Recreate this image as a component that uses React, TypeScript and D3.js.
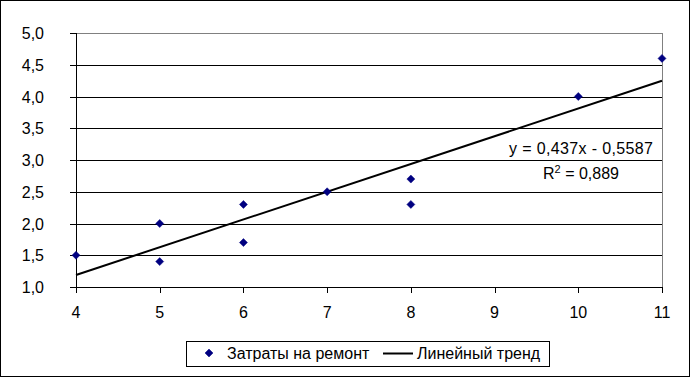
import React from "react";
import * as d3 from "d3";

const xValues = [4, 5, 5, 6, 6, 7, 8, 8, 10, 11];
const yValues = [1.5, 2.0, 1.4, 2.3, 1.7, 2.5, 2.7, 2.3, 4.0, 4.6];
const xTicks = [4, 5, 6, 7, 8, 9, 10, 11];
const yTicks = [1.0, 1.5, 2.0, 2.5, 3.0, 3.5, 4.0, 4.5, 5.0];
const trendSlope = 0.437;
const trendIntercept = -0.5587;
const seriesName = "Затраты на ремонт";
const trendName = "Линейный тренд";
const eqText = "y = 0,437x - 0,5587";
const r2Value = "0,889";

const W = 692;
const H = 378;
const left = 76, right = 662, top = 33, bottom = 287;
const font = "'Liberation Sans', Arial, sans-serif";
const fs = 16;

export default function App() {
  const x = d3.scaleLinear().domain([4, 11]).range([left, right]);
  const y = d3.scaleLinear().domain([1, 5]).range([bottom, top]);
  const fmt = (v: number) => v.toFixed(1).replace(".", ",");
  const line = d3.line<number>().x((d) => x(d)).y((d) => y(trendSlope * d + trendIntercept));
  const diamond = (cx: number, cy: number, r = 4) =>
    `M${cx},${cy - r}L${cx + r},${cy}L${cx},${cy + r}L${cx - r},${cy}Z`;
  return (
    <svg width={W} height={H} style={{ position: "absolute", left: 0, top: 0, fontFamily: font }}>
      <rect x={0.5} y={0.5} width={689} height={376} fill="#fff" stroke="#000" strokeWidth={1} />
      {yTicks.map((t) => (
        <g key={t}>
          {t < 5 && t > 1 && (
            <line x1={left} x2={right} y1={Math.round(y(t)) + 0.5} y2={Math.round(y(t)) + 0.5} stroke="#000" />
          )}
          <line x1={left - 6} x2={left} y1={Math.round(y(t)) + 0.5} y2={Math.round(y(t)) + 0.5} stroke="#000" />
          <text x={44} y={y(t) + 6} textAnchor="end" fontSize={fs} fill="#000">{fmt(t)}</text>
        </g>
      ))}
      <line x1={left} x2={right} y1={top + 0.5} y2={top + 0.5} stroke="#808080" />
      <line x1={right + 0.5} x2={right + 0.5} y1={top} y2={bottom} stroke="#808080" />
      <line x1={left + 0.5} x2={left + 0.5} y1={top} y2={bottom + 1} stroke="#000" />
      <line x1={left} x2={right + 1} y1={bottom + 0.5} y2={bottom + 0.5} stroke="#000" />
      {xTicks.map((t) => (
        <g key={t}>
          <line x1={Math.round(x(t)) + 0.5} x2={Math.round(x(t)) + 0.5} y1={bottom} y2={bottom + 6} stroke="#000" />
          <text x={x(t)} y={318} textAnchor="middle" fontSize={fs} fill="#000">{t}</text>
        </g>
      ))}
      <path d={line([4, 11]) || ""} fill="none" stroke="#000" strokeWidth={2} />
      {xValues.map((xv, i) => (
        <path key={i} d={diamond(x(xv), y(yValues[i]))} fill="#000080" stroke="#000080" strokeWidth={0.5} />
      ))}
      <text x={509} y={154} fontSize={fs} fill="#000" textLength={144} lengthAdjust="spacing">{eqText}</text>
      <text x={543} y={179} fontSize={fs} fill="#000">
        R<tspan dy={-6} fontSize={11}>2</tspan><tspan dy={6}> = {r2Value}</tspan>
      </text>
      <rect x={186.5} y={341.5} width={363} height={25} fill="#fff" stroke="#000" />
      <path d={diamond(209, 353)} fill="#000080" stroke="#000080" strokeWidth={0.5} />
      <text x={227} y={359} fontSize={fs} fill="#000">{seriesName}</text>
      <line x1={383} x2={413} y1={353.5} y2={353.5} stroke="#000" strokeWidth={2} />
      <text x={417} y={359} fontSize={fs} fill="#000">{trendName}</text>
    </svg>
  );
}
